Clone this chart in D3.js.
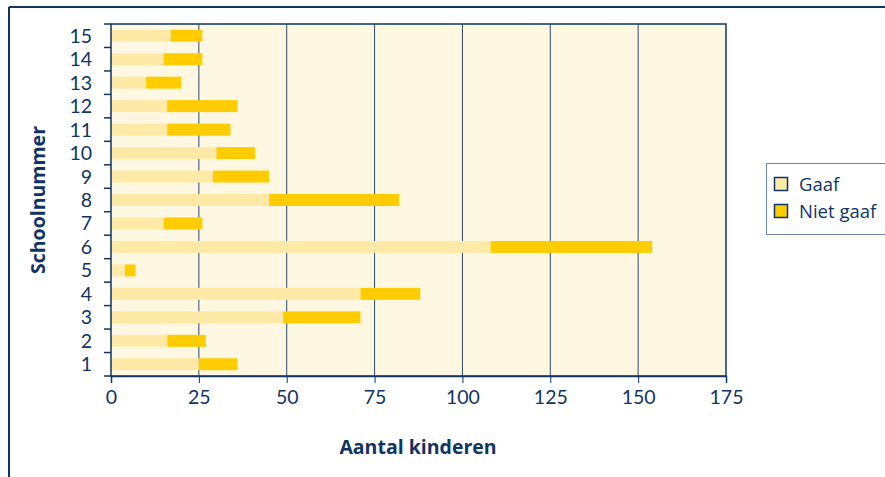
<!DOCTYPE html>
<html>
<head>
<meta charset="utf-8">
<script src="https://cdn.jsdelivr.net/npm/d3@7"></script>
<style>
  body { margin: 0; background: #fff; }
  svg { display: block; font-family: "Open Sans", "Noto Sans", sans-serif; }
  .tickfont { font-family: Lato, "Open Sans", sans-serif; }
</style>
</head>
<body>
<svg id="chart" width="885" height="477"></svg>
<script>
// school numbers, bottom to top
const schools = ['1','2','3','4','5','6','7','8','9','10','11','12','13','14','15'];
// caries-free children per school
const gaaf = [25, 16, 49, 71, 4, 108, 15, 45, 29, 30, 16, 16, 10, 15, 17];
// children with caries per school
const nietGaaf = [11, 11, 22, 17, 3, 46, 11, 37, 16, 11, 18, 20, 10, 11, 9];
const xTicks = [0, 25, 50, 75, 100, 125, 150, 175];
const seriesNames = ['Gaaf', 'Niet gaaf'];
const colors = ['#FFE9A6', '#FFCC00'];

const dark = '#0f3463';
const svg = d3.select('#chart');

// outer frame (top + left)
svg.append('line').attr('x1', 9).attr('x2', 885).attr('y1', 7).attr('y2', 7)
  .attr('stroke', dark).attr('stroke-width', 2);
svg.append('line').attr('x1', 9).attr('x2', 9).attr('y1', 7).attr('y2', 477)
  .attr('stroke', dark).attr('stroke-width', 2);

const m = { left: 111, top: 24, right: 726, bottom: 376 };

const x = d3.scaleLinear().domain([0, 175]).range([m.left, m.right]);
const y = d3.scaleBand().domain(schools).range([m.bottom, m.top]).paddingInner(0.49).paddingOuter(0.245);
const yOuter = d3.scaleBand().domain(schools).range([m.bottom, m.top]);

// plot background
svg.append('rect')
  .attr('x', m.left).attr('y', m.top)
  .attr('width', m.right - m.left).attr('height', m.bottom - m.top)
  .attr('fill', '#FEF7E1');

// vertical grid lines
svg.append('g').selectAll('line')
  .data(xTicks.filter(d => d > 0 && d < 175))
  .join('line')
  .attr('x1', d => x(d)).attr('x2', d => x(d))
  .attr('y1', m.top).attr('y2', m.bottom)
  .attr('stroke', '#2d4a6e').attr('stroke-width', 1);

// stacked bars
const rows = schools.map((s, i) => ({ school: s, gaaf: gaaf[i], niet: nietGaaf[i] }));
const stack = d3.stack().keys(['gaaf', 'niet'])(rows);

svg.append('g').selectAll('g')
  .data(stack)
  .join('g')
  .attr('fill', (d, i) => colors[i])
  .selectAll('rect')
  .data(d => d)
  .join('rect')
  .attr('x', d => x(d[0]))
  .attr('width', d => x(d[1]) - x(d[0]))
  .attr('y', d => y(d.data.school))
  .attr('height', y.bandwidth());

// plot frame
svg.append('rect')
  .attr('x', m.left).attr('y', m.top)
  .attr('width', m.right - m.left).attr('height', m.bottom - m.top)
  .attr('fill', 'none').attr('stroke', dark).attr('stroke-width', 1.5);

// x axis
const xAxis = svg.append('g')
  .attr('transform', `translate(0,${m.bottom})`)
  .call(d3.axisBottom(x).tickValues(xTicks).tickSize(7).tickPadding(7));
xAxis.select('.domain').attr('stroke', dark).attr('stroke-width', 1.5);
xAxis.selectAll('.tick line').attr('stroke', dark);
xAxis.selectAll('.tick text').attr('fill', dark)
  .attr('class', 'tickfont').style('font-size', '19.5px');

// y axis: ticks at band boundaries, labels in band centres
const yAxis = svg.append('g');
yAxis.selectAll('line.tk')
  .data(schools)
  .join('line')
  .attr('class', 'tk')
  .attr('x1', m.left - 7).attr('x2', m.left)
  .attr('y1', d => yOuter(d)).attr('y2', d => yOuter(d))
  .attr('stroke', dark).attr('stroke-width', 1.5);
yAxis.append('line')
  .attr('x1', m.left - 7).attr('x2', m.left)
  .attr('y1', m.bottom).attr('y2', m.bottom)
  .attr('stroke', dark).attr('stroke-width', 1.5);
yAxis.selectAll('text')
  .data(schools)
  .join('text')
  .attr('class', 'tickfont')
  .attr('x', 92)
  .attr('y', d => yOuter(d) + yOuter.bandwidth() / 2)
  .attr('dy', '0.36em')
  .attr('text-anchor', 'end')
  .attr('fill', dark)
  .style('font-size', '19.5px')
  .text(d => d);

// axis titles
svg.append('text')
  .attr('x', 418).attr('y', 454)
  .attr('text-anchor', 'middle')
  .attr('fill', dark)
  .style('font-size', '19.5px').style('font-weight', 'bold')
  .text('Aantal kinderen');
svg.append('text')
  .attr('transform', 'translate(45,200) rotate(-90)')
  .attr('text-anchor', 'middle')
  .attr('fill', dark)
  .style('font-size', '19.5px').style('font-weight', 'bold')
  .text('Schoolnummer');

// legend
const lg = svg.append('g');
lg.append('rect')
  .attr('x', 766.5).attr('y', 163.5).attr('width', 130).attr('height', 71)
  .attr('fill', '#fff').attr('stroke', '#6f87a6').attr('stroke-width', 1);
seriesNames.forEach((name, i) => {
  const yy = 184 + i * 27;
  lg.append('rect')
    .attr('x', 774.5).attr('y', yy - 6.5).attr('width', 13).attr('height', 13)
    .attr('fill', colors[i]).attr('stroke', dark).attr('stroke-width', 1.5);
  lg.append('text')
    .attr('x', 799).attr('y', yy).attr('dy', '0.36em')
    .attr('fill', dark).style('font-size', '18.5px')
    .text(name);
});
</script>
</body>
</html>
